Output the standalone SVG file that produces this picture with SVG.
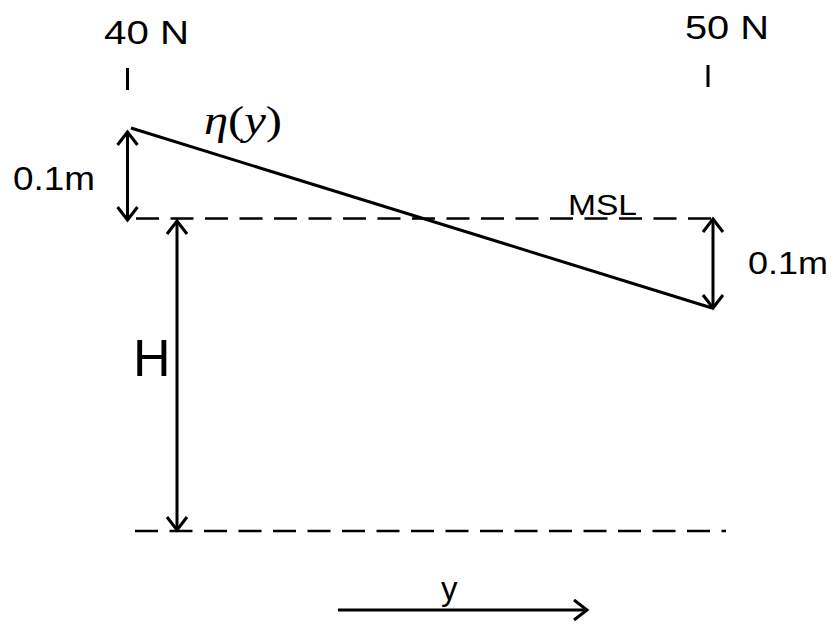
<svg xmlns="http://www.w3.org/2000/svg" width="838" height="624" viewBox="0 0 838 624">
<style>
.ln{stroke:#000;stroke-width:3;fill:none}
.dash{stroke:#000;stroke-width:2.6;fill:none;stroke-dasharray:23 11.5}
.arr{stroke:#000;stroke-width:3;fill:none;marker-end:url(#chev);marker-start:url(#chevs)}
.t{font-family:"Liberation Sans",Arial,sans-serif;fill:#000}
.m{font-family:"Liberation Serif","Times New Roman",serif;fill:#000}
</style>
<defs>
<marker id="chev" markerUnits="userSpaceOnUse" markerWidth="30" markerHeight="30" viewBox="-15 -15 30 30" refX="0" refY="0" orient="auto">
<path d="M-13,-10 L0,0 L-13,10" stroke="#000" stroke-width="3" fill="none"/>
</marker>
<marker id="chevs" markerUnits="userSpaceOnUse" markerWidth="30" markerHeight="30" viewBox="-15 -15 30 30" refX="0" refY="0" orient="auto-start-reverse">
<path d="M-13,-10 L0,0 L-13,10" stroke="#000" stroke-width="3" fill="none"/>
</marker>
</defs>
<rect width="838" height="624" fill="#fff"/>
<g id="levels">
<line class="dash" x1="136" y1="218.5" x2="713" y2="218.5"/>
<line class="dash" x1="135" y1="531" x2="726" y2="531"/>
<line class="ln" x1="131" y1="128" x2="712" y2="308"/>
<line class="ln" x1="127.5" y1="68" x2="127.5" y2="90" stroke-width="3.4"/>
<line class="ln" x1="708" y1="65" x2="708" y2="87" stroke-width="3.4"/>
</g>
<g id="connectors">
<line class="arr" x1="127.5" y1="132" x2="127.5" y2="220"/>
<line class="arr" x1="177" y1="221" x2="177" y2="530"/>
<line class="arr" x1="713" y1="219" x2="713" y2="308"/>
<line class="ln" x1="338" y1="610" x2="587" y2="610" style="marker-end:url(#chev)"/>
</g>
<g id="labels">
<text class="t" x="104" y="44" font-size="34" textLength="85" lengthAdjust="spacingAndGlyphs">40 N</text>
<text class="t" x="685" y="39" font-size="34" textLength="84" lengthAdjust="spacingAndGlyphs">50 N</text>
<text class="m" x="204" y="134" font-size="41" textLength="78" lengthAdjust="spacingAndGlyphs"><tspan font-style="italic">η</tspan>(<tspan font-style="italic">y</tspan>)</text>
<text class="t" x="13" y="190" font-size="33" textLength="82" lengthAdjust="spacingAndGlyphs">0.1m</text>
<text class="t" x="748" y="274" font-size="32" textLength="80" lengthAdjust="spacingAndGlyphs">0.1m</text>
<text class="t" x="568" y="215" font-size="29" textLength="69" lengthAdjust="spacingAndGlyphs">MSL</text>
<text class="t" x="133" y="376" font-size="52">H</text>
<text class="t" x="441" y="600" font-size="33">y</text>
</g>
</svg>
